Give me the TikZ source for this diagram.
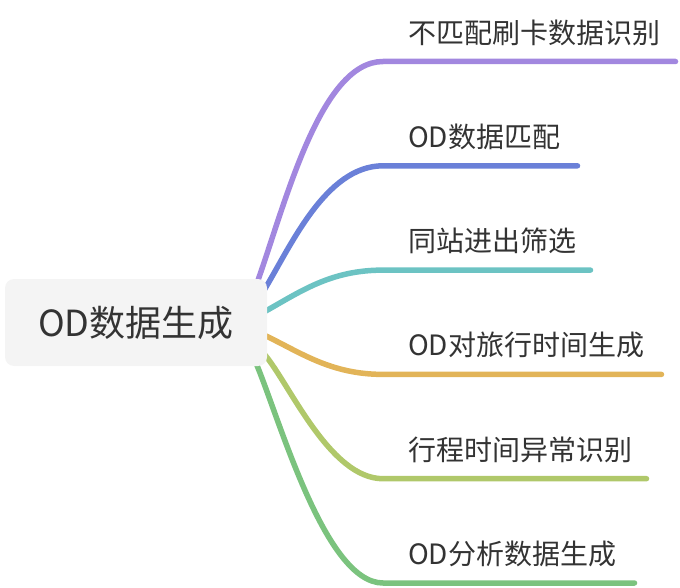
\documentclass[tikz,border=0pt]{standalone}
\usepackage{fontspec}
\newfontfamily\cjk{Noto Sans CJK SC}
\pgfdeclarelayer{bg}
\pgfsetlayers{bg,main}
\definecolor{txt}{HTML}{333333}
\definecolor{rootfill}{HTML}{F4F4F4}
\definecolor{cA}{HTML}{A287DF}
\definecolor{cB}{HTML}{6A80D8}
\definecolor{cC}{HTML}{6CC3C3}
\definecolor{cD}{HTML}{E2B458}
\definecolor{cE}{HTML}{B0C86A}
\definecolor{cF}{HTML}{7BC37E}
\tikzset{
  rootbox/.style={fill=rootfill, rounded corners=9pt, minimum width=262pt, minimum height=87pt, inner sep=0pt, font=\cjk\fontsize{36}{40}\selectfont, text=txt},
  leaf/.style={anchor=west, inner sep=0pt, font=\cjk\fontsize{28}{32}\selectfont, text=txt},
  branch/.style={line width=5.5pt, line cap=round}
}
\begin{document}
\begin{tikzpicture}[x=1pt,y=-1pt]
\useasboundingbox (0,0) rectangle (680,588);
\node[rootbox] (root) at (136,322.5) {OD数据生成};

\node[leaf] (l1) at (408,32.5) {不匹配刷卡数据识别};
\node[leaf] (l2) at (408,136.8) {OD数据匹配};
\node[leaf] (l3) at (408,241.1) {同站进出筛选};
\node[leaf] (l4) at (408,345.4) {OD对旅行时间生成};
\node[leaf] (l5) at (408,449.7) {行程时间异常识别};
\node[leaf] (l6) at (408,554) {OD分析数据生成};

\coordinate (s1) at (257,283);
\coordinate (s2) at (263,292);
\coordinate (s3) at (264,312);
\coordinate (s4) at (264,335);
\coordinate (s5) at (265,355);
\coordinate (s6) at (256,363);

\coordinate (c1) at (383,61.5);
\coordinate (c2) at (383,165.8);
\coordinate (c3) at (383,270.1);
\coordinate (c4) at (383,374.4);
\coordinate (c5) at (383,478.7);
\coordinate (c6) at (383,583);

\coordinate (e1) at (675.5,61.5);
\coordinate (e2) at (577.5,165.8);
\coordinate (e3) at (590.5,270.1);
\coordinate (e4) at (661.5,374.4);
\coordinate (e5) at (646.5,478.7);
\coordinate (e6) at (634.5,583);

\begin{pgfonlayer}{bg}
\draw[branch, cA] (s1) .. controls (285,205) and (320,61.5) .. (c1) -- (e1);
\draw[branch, cB] (s2) .. controls (290,248) and (325,165.8) .. (c2) -- (e2);
\draw[branch, cC] (s3) .. controls (300,292) and (330,270.1) .. (c3) -- (e3);
\draw[branch, cD] (s4) .. controls (300,352) and (330,374.4) .. (c4) -- (e4);
\draw[branch, cE] (s5) .. controls (290,385) and (330,478.7) .. (c5) -- (e5);
\draw[branch, cF] (s6) .. controls (280,420) and (325,583) .. (c6) -- (e6);
\end{pgfonlayer}
\end{tikzpicture}
\end{document}
